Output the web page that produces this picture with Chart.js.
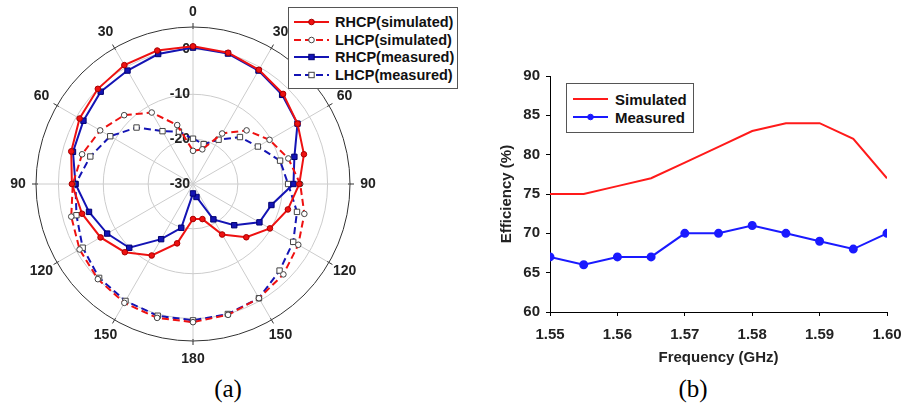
<!DOCTYPE html>
<html>
<head>
<meta charset="utf-8">
<script src="https://cdn.jsdelivr.net/npm/chart.js@4.4.0/dist/chart.umd.min.js"></script>
<style>
body { margin: 0; background: #fff; }
#wrap { position: relative; width: 904px; height: 406px; overflow: hidden; font-family: "Liberation Sans", Arial, sans-serif; }
canvas { position: absolute; }
.legend { position: absolute; background: #fff; border: 1px solid #555; box-sizing: border-box; }
.row { position: absolute; left: 0; height: 18px; display: flex; align-items: center; font-weight: bold; color: #111; white-space: nowrap; }
.row svg { display: block; }
.cap { position: absolute; font-family: "Liberation Serif", "Times New Roman", serif; font-size: 25px; transform: translate(-50%, -50%); }
</style>
</head>
<body>
<div id="wrap">
  <canvas id="polar" width="380" height="372" style="left:0;top:0"></canvas>
  <canvas id="eff" width="424" height="330" style="left:490px;top:40px"></canvas>
  <div id="polarLegend" class="legend" style="left:288px;top:7px;width:170px;height:82px"></div>
  <div id="effLegend" class="legend" style="left:566px;top:83px;width:128px;height:50px"></div>
  <div class="cap" style="left:228px;top:389px">(a)</div>
  <div class="cap" style="left:693px;top:389px">(b)</div>
</div>
<script>
Chart.defaults.font.family = '"Liberation Sans", Arial, sans-serif';
Chart.defaults.color = '#111';

// (a) radiation pattern, angle clockwise from top, dB
const angles = ['0','15','30','45','60','75','90','105','120','135','150','165',
                '180','195','210','225','240','255','270','285','300','315','330','345'];
const angleText = ['0','30','60','90','120','150','180','150','120','90','60','30'];
const ringValues = [-30, -20, -10, 0, 5];
const ringLabels = [-30, -20, -10, 0];

const rhcpSim  = [0.7, 0.3, -0.6, -1.6, -3.1, -4.4, -6.3, -8.1, -10.2, -13.2, -17.0, -21.9,
                  -22.2, -16.3, -11.6, -8.5, -6.2, -4.4, -3.0, -1.9, -0.8, 0.0, 0.6, 0.8];
const lhcpSim  = [-22.6, -22.0, -17.0, -13.1, -10.3, -8.0, -6.1, -4.3, -2.9, -1.5, -0.6, 0.2,
                  0.8, 0.9, 0.6, 0.0, -0.8, -1.9, -3.2, -4.4, -6.1, -8.3, -11.6, -16.4];
const rhcpMeas = [0.4, 0.1, -0.8, -1.9, -3.1, -6.6, -7.6, -11.9, -12.9, -17.0, -20.9, -27.0,
                  -27.9, -19.9, -15.8, -9.9, -7.9, -6.0, -3.8, -2.3, -1.8, -0.9, -0.8, 0.0];
const lhcpMeas = [-19.9, -20.8, -18.6, -15.2, -13.3, -9.9, -8.8, -6.0, -4.2, -2.7, -0.6, 0.0,
                  0.4, 0.4, 0.1, -0.4, -1.6, -3.1, -3.8, -6.3, -8.7, -12.2, -16.4, -17.9];

// (b) efficiency
const freqs = [1.55, 1.555, 1.56, 1.565, 1.57, 1.575, 1.58, 1.585, 1.59, 1.595, 1.60];
const effSim  = [75, 75, 76, 77, 79, 81, 83, 84, 84, 82, 77];
const effMeas = [67, 66, 67, 67, 70, 70, 71, 70, 69, 68, 70];

const RED = '#ee1111', DRED = '#a80000', BLUE = '#1414b4', DBLUE = '#000070';

// polar text: ring values, angle labels, outer ticks
const polarText = {
  id: 'polarText',
  beforeDatasetsDraw(chart) {
    const s = chart.scales.r, c = chart.ctx;
    c.save();
    c.font = 'bold 14px "Liberation Sans", Arial, sans-serif';
    c.fillStyle = '#222';
    c.textAlign = 'right';
    c.textBaseline = 'middle';
    ringLabels.forEach(v => {
      const d = s.getDistanceFromCenterForValue(v);
      c.fillText(String(v), s.xCenter - 3, s.yCenter - d);
    });
    c.textAlign = 'center';
    c.strokeStyle = '#333';
    c.lineWidth = 1;
    for (let i = 0; i < angles.length; i += 2) {
      const off = i === 0 ? 15 : 18;
      const p = s.getPointPosition(i, s.drawingArea + off);
      c.fillText(angleText[i / 2], p.x, p.y);
      const a = s.getPointPosition(i, s.drawingArea - 2);
      const b = s.getPointPosition(i, s.drawingArea + 4);
      c.beginPath();
      c.moveTo(a.x, a.y);
      c.lineTo(b.x, b.y);
      c.stroke();
    }
    c.restore();
  }
};

const polarChart = new Chart(document.getElementById('polar'), {
  type: 'radar',
  data: {
    labels: angles,
    datasets: [{
      label: 'RHCP(simulated)',
      data: rhcpSim,
      borderColor: RED, borderWidth: 2,
      pointStyle: 'circle', pointRadius: 2.8,
      pointBackgroundColor: RED, pointBorderColor: DRED, pointBorderWidth: 1
    }, {
      label: 'LHCP(simulated)',
      data: lhcpSim,
      borderColor: RED, borderWidth: 2, borderDash: [7, 4],
      pointStyle: 'circle', pointRadius: 2.8,
      pointBackgroundColor: '#fff', pointBorderColor: '#444', pointBorderWidth: 1
    }, {
      label: 'RHCP(measured)',
      data: rhcpMeas,
      borderColor: BLUE, borderWidth: 2,
      pointStyle: 'rect', pointRadius: 3.8,
      pointBackgroundColor: BLUE, pointBorderColor: DBLUE, pointBorderWidth: 1
    }, {
      label: 'LHCP(measured)',
      data: lhcpMeas,
      borderColor: BLUE, borderWidth: 2, borderDash: [7, 4],
      pointStyle: 'rect', pointRadius: 3.8,
      pointBackgroundColor: '#fff', pointBorderColor: '#444', pointBorderWidth: 1
    }]
  },
  options: {
    responsive: false,
    animation: false,
    devicePixelRatio: 1,
    layout: { padding: { left: 36, top: 27, right: 30, bottom: 31 } },
    elements: { line: { tension: 0, fill: false } },
    plugins: { legend: { display: false }, tooltip: { enabled: false } },
    scales: {
      r: {
        min: -30,
        max: 5,
        startAngle: 0,
        afterBuildTicks: s => { s.ticks = ringValues.map(v => ({ value: v })); },
        ticks: { display: false },
        pointLabels: { display: false },
        grid: {
          circular: true,
          color: ctx => (ctx.tick && ctx.tick.value === 5) ? '#333' : '#cccccc',
          lineWidth: 1
        },
        angleLines: {
          color: ctx => ctx.index % 2 === 0 ? '#cccccc' : 'rgba(0,0,0,0)',
          lineWidth: 1
        }
      }
    }
  },
  plugins: [polarText]
});

const effChart = new Chart(document.getElementById('eff'), {
  type: 'line',
  data: {
    datasets: [{
      label: 'Simulated',
      data: freqs.map((f, i) => ({ x: f, y: effSim[i] })),
      borderColor: '#ff1a1a', borderWidth: 2,
      pointRadius: 0
    }, {
      label: 'Measured',
      data: freqs.map((f, i) => ({ x: f, y: effMeas[i] })),
      borderColor: '#1a1aff', borderWidth: 2,
      pointStyle: 'circle', pointRadius: 3.5,
      pointBackgroundColor: '#1a1aff', pointBorderColor: '#1a1aff'
    }]
  },
  options: {
    responsive: false,
    animation: false,
    devicePixelRatio: 1,
    layout: { padding: { left: 0, top: 36, right: 27, bottom: 0 } },
    elements: { line: { tension: 0 } },
    plugins: { legend: { display: false }, tooltip: { enabled: false } },
    scales: {
      x: {
        type: 'linear',
        min: 1.55, max: 1.60,
        afterFit: s => { s.height = 58; },
        ticks: {
          stepSize: 0.01,
          padding: 10,
          color: '#222',
          font: { size: 15, weight: 'bold' },
          callback: v => v.toFixed(2)
        },
        grid: { drawOnChartArea: false, tickLength: 4, color: '#000' },
        border: { color: '#000', width: 1 },
        title: {
          display: true, text: 'Frequency (GHz)', color: '#222',
          font: { size: 15, weight: 'bold' }, padding: { top: 4, bottom: 3 }
        }
      },
      y: {
        min: 60, max: 90,
        afterFit: s => { s.width = 60; },
        ticks: {
          stepSize: 5,
          padding: 6,
          color: '#222',
          font: { size: 15, weight: 'bold' }
        },
        grid: { drawOnChartArea: false, tickLength: 4, color: '#000' },
        border: { color: '#000', width: 1 },
        title: {
          display: true, text: 'Efficiency (%)', color: '#222',
          font: { size: 15, weight: 'bold' }, padding: { top: 8, bottom: 0 }
        }
      }
    }
  }
});

// html legends built from the chart datasets
function makeLegend(el, chart, firstTop, rowGap, sampleLeft, sampleW, gap, fontSize) {
  chart.data.datasets.forEach((ds, i) => {
    const row = document.createElement('div');
    row.className = 'row';
    row.style.top = (firstTop + i * rowGap) + 'px';
    row.style.left = sampleLeft + 'px';
    row.style.fontSize = fontSize + 'px';
    const dash = ds.borderDash ? ` stroke-dasharray="${ds.borderDash.join(' ')}"` : '';
    let svg = `<svg width="${sampleW}" height="12"><line x1="0" y1="6" x2="${sampleW}" y2="6" stroke="${ds.borderColor}" stroke-width="2"${dash}/>`;
    if (ds.pointRadius > 0) {
      const m = sampleW / 2;
      if (ds.pointStyle === 'rect') {
        svg += `<rect x="${m - 2.7}" y="3.3" width="5.4" height="5.4" fill="${ds.pointBackgroundColor}" stroke="${ds.pointBorderColor}" stroke-width="1"/>`;
      } else {
        svg += `<circle cx="${m}" cy="6" r="2.8" fill="${ds.pointBackgroundColor}" stroke="${ds.pointBorderColor}" stroke-width="1"/>`;
      }
    }
    svg += '</svg>';
    row.innerHTML = svg + `<span style="margin-left:${gap}px">${ds.label}</span>`;
    el.appendChild(row);
  });
}
makeLegend(document.getElementById('polarLegend'), polarChart, 5, 17.6, 5, 35, 6, 14.5);
makeLegend(document.getElementById('effLegend'), effChart, 6, 18, 6, 35, 7, 15);
</script>
</body>
</html>
